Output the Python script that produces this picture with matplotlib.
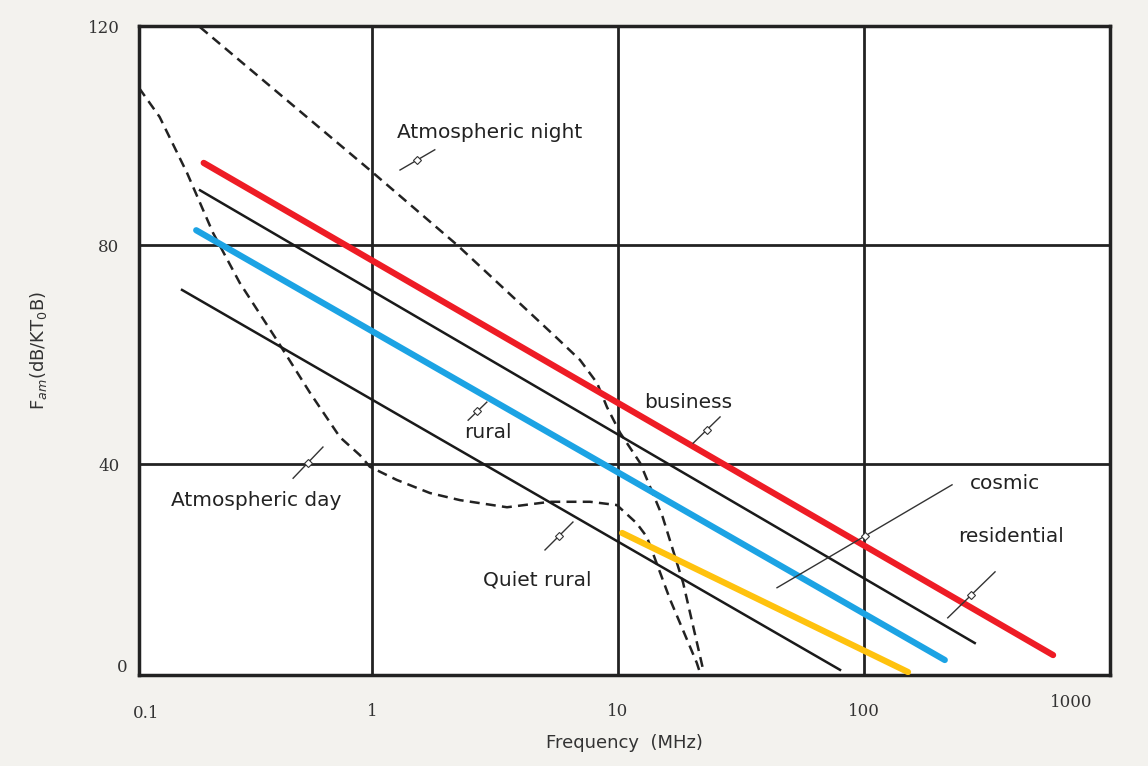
import numpy as np
import matplotlib.pyplot as plt

# man-made noise lines (frequency MHz, Fam dB)
business_f = [0.207, 587]
business_db = [95.0, 5.1]
residential_f = [0.2, 282]
residential_db = [90.0, 7.3]
rural_f = [0.193, 213]
rural_db = [82.7, 4.2]
quiet_f = [0.169, 79.9]
quiet_db = [71.8, 2.4]
cosmic_f = [10.4, 151]
cosmic_db = [27.4, 2.0]

# atmospheric noise curves
night_f = [0.2, 0.98, 2.22, 4.27, 5.65, 7.01, 8.22, 9.02, 10.2, 12.3, 15.2, 18.4, 22.2]
night_db = [119.8, 93.7, 80.0, 68.1, 63.0, 59.0, 54.8, 50.4, 45.7, 40.2, 30.3, 18.3, 2.4]
day_f = [0.113, 0.137, 0.177, 0.226, 0.29, 0.411, 0.56, 0.741, 0.894, 0.98, 1.26, 1.72,
         2.28, 3.54, 5.29, 7.7, 9.9, 11.9, 13.1, 16.3, 20.9, 21.5]
day_db = [108.7, 103.4, 93.2, 82.2, 73.1, 62.6, 53.0, 44.9, 41.6, 39.5, 37.1, 34.7,
          33.4, 32.1, 33.1, 33.1, 32.5, 29.2, 26.7, 15.2, 3.7, 2.0]

# labels: text, text position, leader start, leader end
labels = [
    ("Atmospheric night", (3.02, 100.5), (1.30, 93.7), (1.80, 97.4)),
    ("business", (19.3, 51.3), (20.2, 43.8), (26.0, 48.6)),
    ("rural", (2.96, 45.7), (2.46, 48.0), (2.93, 51.3)),
    ("Atmospheric day", (0.338, 33.4), (0.478, 37.4), (0.632, 43.1)),
    ("Quiet rural", (4.69, 18.8), (5.05, 24.3), (6.56, 29.4)),
    ("cosmic", (374, 36.5), (44.3, 17.4), (228, 36.2)),
    ("residential", (396, 26.7), (219, 11.9), (341, 20.3)),
]

fig = plt.figure(figsize=(11.48, 7.66), dpi=100, facecolor="#f3f2ee")
ax = fig.add_axes([0.1211, 0.1188, 0.8458, 0.8472])
ax.set_facecolor("white")
ax.set_xscale("log")
ax.set_xlim(0.113, 1000)
ax.set_ylim(1.46, 120)

for v in [1, 10, 100]:
    ax.axvline(v, color="#222222", lw=2, zorder=1)
for v in [40, 80]:
    ax.axhline(v, color="#222222", lw=2, zorder=1)

ax.plot(night_f, night_db, color="#222222", lw=1.8, ls=(0, (4, 2.5)), zorder=2)
ax.plot(day_f, day_db, color="#222222", lw=1.8, ls=(0, (4, 2.5)), zorder=2)

ax.plot(residential_f, residential_db, color="#1a1a1a", lw=1.8, zorder=3)
ax.plot(quiet_f, quiet_db, color="#1a1a1a", lw=1.8, zorder=3)
ax.plot(business_f, business_db, color="#ee1c25", lw=4.5, solid_capstyle="round", zorder=4)
ax.plot(rural_f, rural_db, color="#1ca3e4", lw=4.5, solid_capstyle="round", zorder=4)
ax.plot(cosmic_f, cosmic_db, color="#ffc20e", lw=4.5, solid_capstyle="round", zorder=4)

for txt, pos, a, b in labels:
    ax.text(pos[0], pos[1], txt, fontsize=14.5, ha="center", va="center",
            color="#222222", zorder=5)
    ax.plot([a[0], b[0]], [a[1], b[1]], color="#333333", lw=1, zorder=5)
    mx = 10 ** (0.5 * (np.log10(a[0]) + np.log10(b[0])))
    my = 0.5 * (a[1] + b[1])
    ax.plot(mx, my, marker="D", ms=4, mfc="white", mec="#333333", mew=0.8, zorder=6)

for s in ax.spines.values():
    s.set_linewidth(2.5)
    s.set_color("#222222")

ax.set_xticks([1, 10, 100])
ax.set_xticklabels(["1", "10", "100"])
ax.minorticks_off()
ax.set_yticks([40, 80, 120])
ax.set_yticklabels(["40", "80", "120"])
ax.tick_params(axis="y", length=0, pad=14, labelsize=12, labelcolor="#333333")
ax.tick_params(axis="x", length=0, pad=20, labelsize=12, labelcolor="#333333")
for t in ax.get_xticklabels() + ax.get_yticklabels():
    t.set_family("DejaVu Serif")
ax.text(-0.012, 0.012, "0", transform=ax.transAxes, ha="right", va="center",
        fontsize=12, family="DejaVu Serif", color="#333333")
ax.text(0.007, -0.059, "0.1", transform=ax.transAxes, ha="center", va="center",
        fontsize=12, family="DejaVu Serif", color="#333333")
ax.text(0.96, -0.042, "1000", transform=ax.transAxes, ha="center", va="center",
        fontsize=12, family="DejaVu Serif", color="#333333")

ax.set_xlabel("Frequency  (MHz)", fontsize=13, color="#333333", labelpad=10)
ax.set_ylabel(r"F$_{am}$(dB/KT$_0$B)", fontsize=13, color="#333333", labelpad=28)

fig.savefig("out.png", dpi=100, facecolor=fig.get_facecolor())
